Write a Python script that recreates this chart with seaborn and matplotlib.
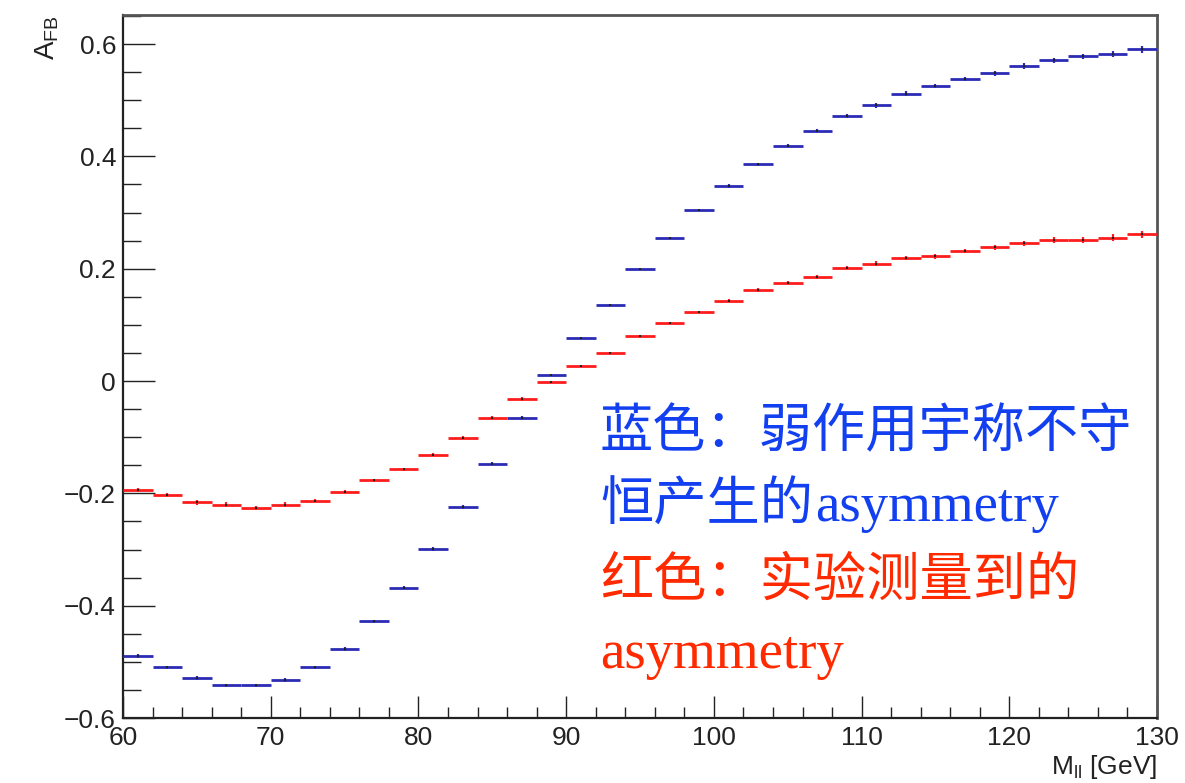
import numpy as np
import pandas as pd
import matplotlib
matplotlib.use("Agg")
import matplotlib.pyplot as plt
from matplotlib.ticker import MultipleLocator, FuncFormatter
import seaborn as sns

# Dilepton mass binning: 35 bins of 2 GeV between 60 and 130 GeV
bin_edges = np.arange(60, 132, 2)

# Forward-backward asymmetry from the weak-interaction parity violation
afb_weak = [-0.490, -0.510, -0.529, -0.542, -0.542, -0.532, -0.510, -0.477,
            -0.428, -0.368, -0.299, -0.224, -0.147, -0.065, 0.011, 0.077,
            0.136, 0.199, 0.255, 0.304, 0.347, 0.386, 0.419, 0.446, 0.472,
            0.491, 0.512, 0.525, 0.538, 0.548, 0.561, 0.571, 0.578, 0.582,
            0.591]
err_weak = [0.004, 0.003, 0.003, 0.003, 0.003, 0.003, 0.003, 0.003,
            0.003, 0.003, 0.003, 0.003, 0.003, 0.003, 0.002, 0.002,
            0.002, 0.002, 0.002, 0.002, 0.003, 0.003, 0.003, 0.003, 0.003,
            0.004, 0.004, 0.004, 0.004, 0.004, 0.005, 0.005, 0.005, 0.005,
            0.006]

# Measured forward-backward asymmetry
afb_meas = [-0.194, -0.203, -0.216, -0.220, -0.226, -0.220, -0.213, -0.197,
            -0.177, -0.157, -0.131, -0.101, -0.065, -0.032, -0.002, 0.027,
            0.050, 0.080, 0.103, 0.123, 0.143, 0.162, 0.175, 0.185, 0.202,
            0.209, 0.219, 0.222, 0.232, 0.238, 0.245, 0.251, 0.251, 0.255,
            0.261]
err_meas = [0.004, 0.004, 0.004, 0.004, 0.004, 0.004, 0.003, 0.003,
            0.003, 0.003, 0.003, 0.003, 0.003, 0.003, 0.002, 0.002,
            0.002, 0.002, 0.002, 0.002, 0.003, 0.003, 0.003, 0.003, 0.003,
            0.004, 0.004, 0.004, 0.004, 0.004, 0.005, 0.005, 0.006, 0.006,
            0.006]

y_ticks = [-0.6, -0.4, -0.2, 0.0, 0.2, 0.4, 0.6]
x_ticks = [60, 70, 80, 90, 100, 110, 120, 130]

lo = bin_edges[:-1]
hi = bin_edges[1:]
centers = 0.5 * (lo + hi)

df = pd.concat([
    pd.DataFrame({"lo": lo, "hi": hi, "m": centers, "afb": afb_weak,
                  "err": err_weak, "series": "weak"}),
    pd.DataFrame({"lo": lo, "hi": hi, "m": centers, "afb": afb_meas,
                  "err": err_meas, "series": "meas"}),
], ignore_index=True)

sns.set_theme(style="ticks")
plt.rcParams["font.family"] = ["Liberation Sans", "DejaVu Sans"]
plt.rcParams["axes.unicode_minus"] = True

fig = plt.figure(figsize=(11.85, 7.83), dpi=100)
ax = fig.add_axes([0.1038, 0.083, 0.8726, 0.898])

palette = {"weak": "#2b2bb5", "meas": "#ff1c1c"}

for key, sub in df.groupby("series", sort=False):
    col = palette[key]
    ax.hlines(sub["afb"], sub["lo"], sub["hi"], colors=col, lw=2.0, zorder=3)
    ax.errorbar(sub["m"], sub["afb"], yerr=sub["err"], fmt="none",
                ecolor=col, elinewidth=1.6, capsize=0, zorder=4)

sns.scatterplot(data=df, x="m", y="afb", color="#222222", s=3,
                marker="s", linewidth=0, legend=False, ax=ax, zorder=5)

ax.set_xlim(60, 130)
ax.set_ylim(-0.6, 0.652)
ax.set_xticks(x_ticks)
ax.set_yticks(y_ticks)
ax.xaxis.set_minor_locator(MultipleLocator(2))
ax.yaxis.set_minor_locator(MultipleLocator(0.05))


def fmt_y(v, _):
    if abs(v) < 1e-9:
        return "0"
    s = f"{abs(v):.1f}"
    return ("\u2212" + s) if v < 0 else s


ax.yaxis.set_major_formatter(FuncFormatter(fmt_y))
ax.tick_params(axis="both", which="both", direction="in", width=1.0,
               color="#222222", labelsize=19, labelcolor="#222222")
ax.tick_params(axis="y", which="major", length=23, pad=5)
ax.tick_params(axis="y", which="minor", length=13)
ax.tick_params(axis="x", which="major", length=16, pad=6)
ax.tick_params(axis="x", which="minor", length=8)

for side in ["left", "bottom"]:
    ax.spines[side].set_linewidth(1.6)
    ax.spines[side].set_color("#222222")
for side in ["top", "right"]:
    ax.spines[side].set_visible(True)
    ax.spines[side].set_linewidth(2.0)
    ax.spines[side].set_color("#555555")

ax.set_xlabel(r"M$_\mathregular{ll}$ [GeV]", fontsize=19, color="#222222",
              loc="right", labelpad=2)
ax.set_ylabel(r"A$_\mathregular{FB}$", fontsize=20, color="#222222",
              loc="top", labelpad=2)

# Annotation block: CJK runs and Latin runs set separately
cjk_family = ["Noto Sans CJK SC"]
lat_family = ["Liberation Serif"]
blue_txt = "#1240f0"
red_txt = "#ff2a00"
W, H = 1185, 783
x0 = 600
cjk_size = 38.3
em_px = cjk_size * 100 / 72

runs = [
    ("蓝色：弱作用宇称不守", None, blue_txt, 432),
    ("恒产生的", "asymmetry", blue_txt, 505),
    ("红色：实验测量到的", None, red_txt, 580),
    ("", "asymmetry", red_txt, 652),
]
for cjk, lat, c, ypix in runs:
    y = 1 - ypix / H
    if cjk:
        fig.text(x0 / W, y, cjk, color=c, fontsize=cjk_size,
                 family=cjk_family, ha="left", va="center")
    if lat:
        xl = x0 + len(cjk) * em_px + (2 if cjk else 0)
        fig.text(xl / W, y - 0.004, lat, color=c, fontsize=39.5,
                 family=lat_family, ha="left", va="center")

fig.savefig("out.png", dpi=100)
